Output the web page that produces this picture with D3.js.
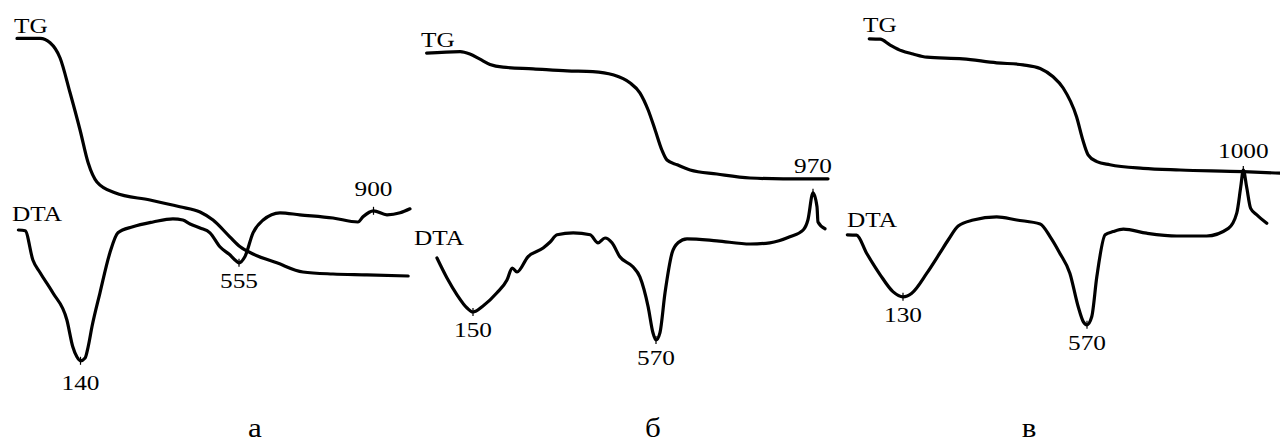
<!DOCTYPE html>
<html>
<head>
<meta charset="utf-8">
<script src="https://cdn.jsdelivr.net/npm/d3@7"></script>
<style>
  html, body { margin: 0; padding: 0; background: #fff; }
  svg { display: block; }
</style>
</head>
<body>
<script>
// Thermogravimetric (TG) and differential thermal (DTA) curves for three samples.
// x: temperature, °C; y: signal in relative units (0–100).

const sampleLabels = ["а", "б", "в"];

// ---- sample а ----
const tgA = [[0,90.4],[51,90.4],[73,89.3],[95,85.5],[117,76.8],[139,67.5],[160,59.3],[183,54.5],
  [230,51.8],[322,50],[400,48.3],[453,47],[487,45],[531,40.8],[558,38.3],[591,36.5],[652,34.3],
  [719,32],[796,31.5],[883,31.3],[995,31]];
const dtaA = [[3,42.5],[18,42.3],[35,35],[51,31.8],[79,26.8],[110,20],[123,13.3],[132,10.8],
  [140,9.8],[152,10.5],[160,13.3],[170,18.3],[191,26.8],[217,36.8],[238,41.8],[277,43.3],
  [330,44.5],[382,45.3],[408,45],[427,44],[453,43],[479,41.8],[505,38.3],[531,36.3],[547,34.8],
  [555,34.3],[570,35.8],[591,41.8],[617,45],[660,46.8],[711,46.3],[796,45.5],[860,44.5],
  [873,45.8],[900,47.3],[937,46.3],[973,46.8],[1000,47.8]];
const peaksA = [140, 555, 900];

// ---- sample б ----
const tgB = [[2,86.7],[109,87.1],[140,86.5],[166,85.2],[189,83.9],[219,83.2],[288,82.8],
  [366,82.3],[425,82.1],[471,81.3],[510,79.3],[533,76.8],[552,72.5],[568,67.5],[585,62.5],
  [598,60],[624,58.8],[657,57.5],[725,56.5],[810,55.5],[894,55.3],[1000,55.3]];
const dtaB = [[35,35.5],[67,30.5],[99,26.3],[131,23],[150,22],[173,23.5],[205,26.8],[228,30],
  [240,33],[251,32],[276,35.8],[311,38],[327,39.5],[343,41.3],[380,41.8],[419,41.3],[437,39.3],
  [453,40.5],[469,39.3],[487,35.8],[517,33.3],[533,30.8],[552,23.3],[563,16.8],[570,15],
  [580,16.8],[593,26.8],[611,36.8],[626,39.3],[649,40.3],[725,39.8],[810,39],[860,39.3],
  [911,40.8],[945,42.5],[957,45],[970,51.8],[978,48.3],[980,44.5],[994,42.8]];
const peaksB = [150, 570, 970];

// ---- sample в ----
const tgC = [[53,90.3],[78,90.2],[100,88.8],[127,87.3],[154,86.5],[187,85.7],[273,85.3],
  [354,84.3],[417,83.8],[458,82.9],[489,80.8],[513,78],[545,70.8],[560,65],[573,61.3],
  [597,59.6],[633,58.8],[724,57.9],[826,57.5],[1000,57.1],[1100,56.7]];
const dtaC = [[3,41.3],[24,41.2],[47,36.7],[78,31.3],[107,27.1],[130,25.8],[151,26.7],
  [187,31.7],[218,36.7],[238,40],[262,43.5],[298,45],[354,45.8],[402,45],[458,44],[482,40.8],
  [505,36.7],[529,31.7],[549,23.3],[561,19.6],[570,18.8],[583,20.8],[597,30.8],[620,41.3],
  [642,42.1],[670,42.7],[734,41.7],[817,41],[899,41],[959,42.9],[982,46.7],[993,53.3],
  [1000,57.5],[1009,53.3],[1020,47.9],[1037,46.3],[1064,44.2]];
const peaksC = [130, 570, 1000];

// ---- layout ----
const W = 1280, H = 445;
const TEXT_SX = 1.15;          // horizontal stretch of the serif lettering
const FONT = "'Liberation Serif', 'Times New Roman', serif";

const panels = [
  { tg: tgA, dta: dtaA, peaks: peaksA, label: sampleLabels[0],
    xStops: [0, 140, 555, 900, 1000], xPix: [17, 80.5, 239, 373.5, 410],
    tgText: [14, 33], dtaText: [12, 221], peakDy: [29, 25, -15], letter: [255, 437] },
  { tg: tgB, dta: dtaB, peaks: peaksB, label: sampleLabels[1],
    xStops: [0, 150, 570, 970, 1000], xPix: [426, 473, 656, 813, 828],
    tgText: [421, 47], dtaText: [414, 245], peakDy: [25, 25, -20], letter: [653, 437] },
  { tg: tgC, dta: dtaC, peaks: peaksC, label: sampleLabels[2],
    xStops: [0, 130, 570, 1000, 1100], xPix: [846, 903, 1087, 1243.3, 1280],
    tgText: [863, 32], dtaText: [847, 227], peakDy: [25, 25, -12], letter: [1029, 437] }
];

const y = d3.scaleLinear().domain([0, 100]).range([400, 0]);

const svg = d3.select("body").append("svg")
  .attr("width", W).attr("height", H)
  .attr("viewBox", `0 0 ${W} ${H}`);

svg.append("rect").attr("width", W).attr("height", H).attr("fill", "#fff");

function stretchedText(sel, px, py, str, size, anchor) {
  sel.append("text")
    .attr("transform", `translate(${px},${py}) scale(${TEXT_SX},1)`)
    .attr("text-anchor", anchor)
    .attr("font-family", FONT)
    .attr("font-size", size)
    .attr("fill", "#000")
    .text(str);
}

panels.forEach(p => {
  const x = d3.scaleLinear().domain(p.xStops).range(p.xPix);
  const line = d3.line()
    .x(d => x(d[0]))
    .y(d => y(d[1]))
    .curve(d3.curveMonotoneX);

  const g = svg.append("g");

  [p.tg, p.dta].forEach(series => {
    g.append("path")
      .datum(series)
      .attr("d", line)
      .attr("fill", "none")
      .attr("stroke", "#000")
      .attr("stroke-width", 3.2)
      .attr("stroke-linejoin", "round")
      .attr("stroke-linecap", "round");
  });

  // peak temperatures on the DTA curve
  p.peaks.forEach((t, i) => {
    const pt = p.dta.find(d => d[0] === t);
    const px = x(pt[0]), py = y(pt[1]);
    g.append("line")
      .attr("x1", px).attr("x2", px)
      .attr("y1", py - 4).attr("y2", py + 4)
      .attr("stroke", "#000").attr("stroke-width", 1.2);
    stretchedText(g, px, py + p.peakDy[i], String(t), 22, "middle");
  });

  stretchedText(g, p.tgText[0], p.tgText[1], "TG", 22, "start");
  stretchedText(g, p.dtaText[0], p.dtaText[1], "DTA", 22, "start");
  stretchedText(g, p.letter[0], p.letter[1], p.label, 27, "middle");
});
</script>
</body>
</html>
